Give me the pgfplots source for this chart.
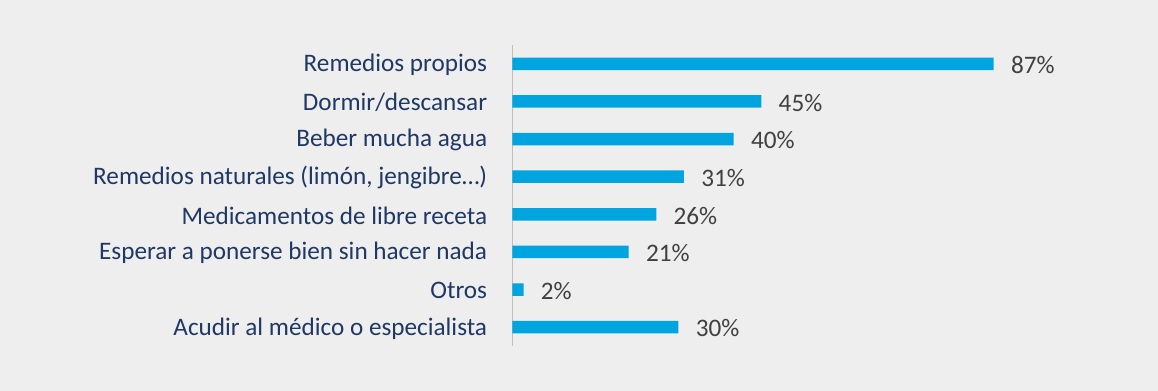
\documentclass[border=0pt]{standalone}
\usepackage{pgfplots}
\pgfplotsset{compat=1.18}
\usepackage{fontspec}
\setmainfont{Carlito}
\definecolor{bg}{HTML}{EEEEEE}
\definecolor{barc}{HTML}{00A5E0}
\definecolor{navy}{HTML}{1F3864}
\definecolor{valc}{HTML}{404040}
\definecolor{axc}{HTML}{BFBFBF}
\begin{document}
\begin{tikzpicture}
\fill[bg] (0,0) rectangle (579pt,195.5pt);
\begin{axis}[
  at={(256.25pt,22.5pt)}, anchor=south west,
  scale only axis, width=276.5pt, height=150.5pt,
  xbar, bar width=6.25pt,
  xmin=0, xmax=100,
  ymin=-0.5, ymax=7.5, y dir=reverse,
  axis x line=none,
  axis y line=left,
  y axis line style={-, draw=axc, line width=0.75pt},
  ytick={0,1,2,3,4,5,6,7},
  yticklabels={Remedios propios,Dormir/descansar,Beber mucha agua,{Remedios naturales (limón, jengibre…)},Medicamentos de libre receta,Esperar a ponerse bien sin hacer nada,Otros,Acudir al médico o especialista},
  major tick length=0pt,
  ytick style={draw=none},
  yticklabel style={font=\fontsize{12.6}{14}\selectfont, text=navy, anchor=east, inner sep=0pt, xshift=-12.5pt, yshift=-0.6pt},
  /pgf/number format/assume math mode=true,
  nodes near coords={\pgfmathprintnumber{\pgfplotspointmeta}\%},
  point meta=x,
  every node near coord/.append style={font=\fontsize{12.6}{14}\selectfont, text=valc, anchor=west, inner sep=0pt, xshift=8.5pt, yshift=-0.6pt},
]
\addplot[fill=barc, draw=none] coordinates {
(87,0) (45,1) (40,2) (31,3) (26,4) (21,5) (2,6) (30,7)
};
\end{axis}
\end{tikzpicture}
\end{document}
